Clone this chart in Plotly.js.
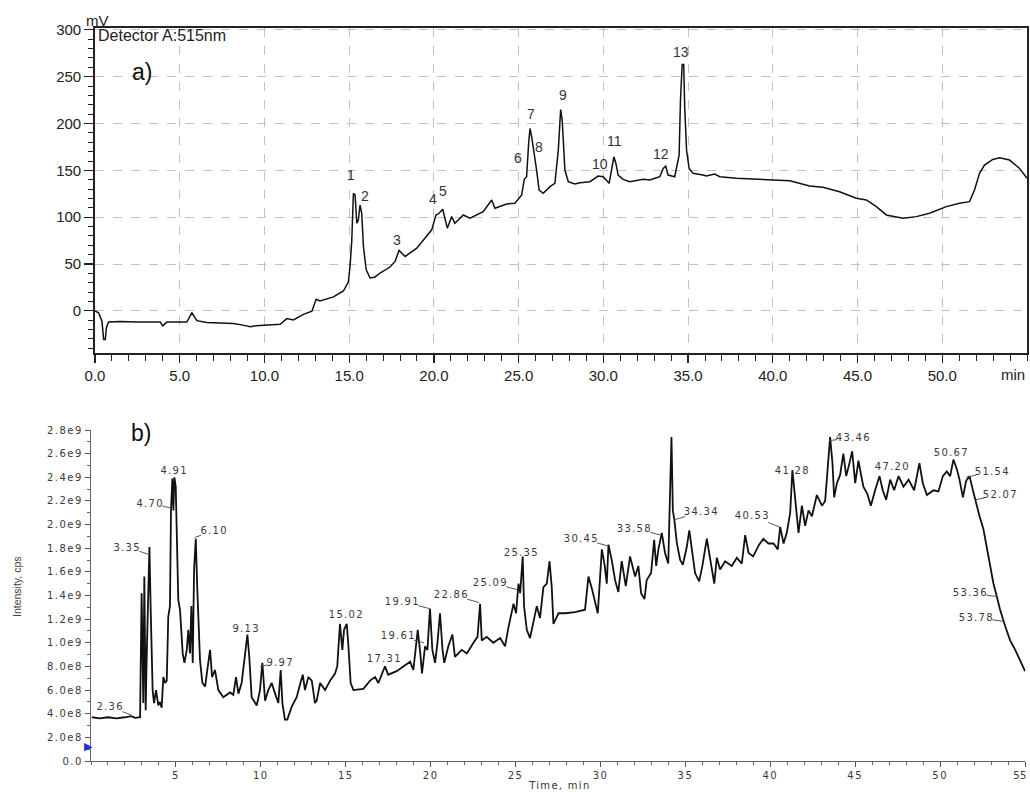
<!DOCTYPE html>
<html>
<head>
<meta charset="utf-8">
<script src="https://cdn.plot.ly/plotly-3.0.1.min.js"></script>
<style>
html,body{margin:0;padding:0;background:#fff;}
#chart{width:1030px;height:792px;}
</style>
</head>
<body>
<div id="chart"></div>
<script>
// ---------- (a) HPLC-DAD chromatogram, Detector A:515nm ----------
const aTime = [0,0.21,0.41,0.51,0.61,0.67,0.8,1.5,2.5,3.5,3.85,4.0,4.24,5.42,5.72,5.82,6.01,6.6,7.4,8.17,8.8,9.16,9.5,9.94,10.5,10.93,11.32,11.71,12.3,12.8,13.05,13.28,14.07,14.66,14.95,15.05,15.15,15.25,15.35,15.45,15.54,15.64,15.74,15.84,16.0,16.23,16.53,16.82,17.41,17.71,17.94,18.3,18.99,19.57,19.87,20.12,20.26,20.52,20.65,20.79,21.05,21.24,21.73,22.13,22.91,23.41,23.6,24.29,24.78,25.18,25.33,25.47,25.59,25.67,25.77,25.9,26.06,26.21,26.45,26.85,27.14,27.34,27.48,27.57,27.73,27.93,28.32,28.62,29.21,29.69,29.99,30.34,30.48,30.62,30.74,30.87,31.17,31.56,32.35,32.74,33.04,33.33,33.53,33.68,33.82,34.21,34.47,34.55,34.65,34.74,34.8,34.91,35.06,35.29,35.88,36.08,36.57,36.87,37.85,39.62,41.0,42.17,42.96,43.94,44.93,45.52,46.11,46.7,47.68,48.47,49.25,50.24,51.02,51.61,51.9,52.2,52.49,52.98,53.38,53.97,54.56,55.0];
const aSignal = [0,-2,-11,-30.5,-30.5,-18,-12,-11.5,-12,-11.5,-12,-16,-12,-12,-2,-5,-10.5,-12.4,-13,-13.4,-15.5,-17,-16,-15.3,-15,-14.3,-8.3,-9.7,-3.8,-0.3,12.4,10.6,14.9,21.2,30.8,47.5,74,125.5,123.7,93.6,97,113,104,68.7,44,35.1,36.2,40.4,46.8,52.8,64.5,58.1,67,79.4,86.5,102.4,103.5,108.5,97,88.3,100.6,93.6,102.4,99,106,118.4,109.6,114.1,114.9,123.7,140.4,143.2,178.7,194.7,185.7,171.6,150.3,129,125.5,132.6,136.2,171.6,214.9,203.5,150.3,137.9,135.4,136.8,137.9,143.9,143.2,136.2,150.3,164.5,157.4,145,140.4,137.9,140.4,139.7,141.5,143.2,152.1,154.6,145,143.2,166.3,224.8,263.1,263.1,217.7,171.6,152.1,146.8,145,144,146,143.2,141.5,140.4,139,133.3,131.9,127.2,120.2,118.4,111.3,102.4,98.9,100.6,104.3,111.3,114.9,116.6,129,146.8,155.6,161.7,163.4,161,152.1,141.5];
const aPeakLabels = ['1','2','3','4','5','6','7','8','9','10','11','12','13'];
const aPeakLabelX = [15.1,15.94,17.8,19.97,20.52,24.94,25.73,26.2,27.63,29.79,30.68,33.43,34.57];
const aPeakLabelY = [145,122.7,75.9,119,128,163.4,210.6,174.5,230,156.4,181.5,168,276.2];
const aXTickVals = [0,5,10,15,20,25,30,35,40,45,50];
const aXTickText = ['0.0','5.0','10.0','15.0','20.0','25.0','30.0','35.0','40.0','45.0','50.0'];
const aYTickVals = [0,50,100,150,200,250,300];
const aYTickText = ['0','50','100','150','200','250','300'];

// ---------- (b) LC-MS total ion chromatogram ----------
const bTime = [0.05,0.5,1.0,1.5,2.0,2.36,2.6,2.89,2.98,3.08,3.14,3.22,3.28,3.38,3.44,3.51,3.63,3.71,3.83,3.96,4.06,4.16,4.26,4.36,4.46,4.55,4.65,4.71,4.79,4.85,4.91,4.99,5.05,5.14,5.24,5.40,5.50,5.64,5.73,5.83,5.91,5.99,6.07,6.17,6.26,6.42,6.56,6.72,6.82,7.01,7.13,7.30,7.50,7.79,8.19,8.38,8.54,8.68,8.87,9.07,9.21,9.32,9.46,9.76,9.95,10.09,10.25,10.44,10.64,10.84,11.03,11.17,11.27,11.42,11.56,11.82,12.11,12.33,12.47,12.60,12.80,13.00,13.19,13.29,13.49,13.78,14.08,14.37,14.50,14.66,14.80,14.90,15.06,15.15,15.29,15.45,16.04,16.43,16.73,16.92,17.31,17.50,18.00,18.39,18.79,18.98,19.24,19.39,19.49,19.67,19.81,19.96,20.10,20.26,20.40,20.55,20.70,20.80,21.04,21.28,21.43,21.83,22.13,22.52,22.76,22.91,23.01,23.30,23.69,24.09,24.38,24.58,24.88,25.03,25.17,25.27,25.42,25.50,25.66,25.85,26.05,26.25,26.44,26.64,26.84,27.00,27.13,27.23,27.53,27.92,28.50,29.09,29.29,29.49,29.84,30.08,30.25,30.37,30.47,30.66,30.86,31.05,31.25,31.49,31.74,32.04,32.23,32.39,32.59,32.72,32.98,33.16,33.28,33.41,33.61,33.80,33.99,34.10,34.18,34.26,34.35,34.50,34.69,34.85,35.08,35.23,35.37,35.57,35.81,36.00,36.26,36.40,36.55,36.70,36.85,37.04,37.34,37.73,38.03,38.32,38.52,38.72,38.99,39.34,39.59,39.89,40.19,40.44,40.58,40.78,40.97,41.17,41.30,41.46,41.66,41.86,42.05,42.25,42.45,42.74,43.04,43.23,43.36,43.52,43.66,43.76,43.92,44.11,44.30,44.47,44.66,44.82,45.00,45.19,45.33,45.48,45.71,45.92,46.17,46.43,46.62,46.82,47.06,47.29,47.55,47.84,48.14,48.47,48.78,48.98,49.22,49.61,49.90,50.16,50.39,50.59,50.78,50.98,51.14,51.34,51.53,51.73,51.93,52.06,52.32,52.55,52.85,53.14,53.34,53.53,53.83,54.12,54.42,54.71,55.00];
const bIntensity = [3.7e8,3.6e8,3.7e8,3.6e8,3.7e8,3.8e8,3.65e8,3.7e8,1.42e9,4.9e8,1.56e9,4.3e8,8.8e8,1.45e9,1.81e9,1.31e9,6.0e8,4.9e8,6.0e8,4.7e8,5.0e8,4.5e8,7.1e8,6.6e8,6.8e8,1.22e9,1.31e9,2.12e9,2.39e9,2.12e9,2.40e9,2.32e9,2.01e9,1.36e9,1.28e9,9.1e8,8.3e8,9.4e8,1.11e9,9.1e8,1.31e9,8.3e8,1.62e9,1.88e9,1.45e9,8.5e8,6.6e8,6.3e8,7.4e8,9.4e8,7.1e8,7.7e8,6.0e8,5.4e8,5.8e8,5.6e8,7.1e8,5.7e8,6.6e8,9.1e8,1.07e9,8.8e8,5.4e8,4.7e8,6.0e8,8.3e8,5.1e8,6.0e8,6.6e8,5.7e8,4.9e8,7.7e8,4.9e8,3.5e8,3.5e8,4.6e8,5.4e8,6.6e8,7.3e8,6.0e8,7.1e8,6.8e8,4.9e8,5.1e8,6.6e8,6.0e8,6.8e8,7.4e8,8.0e8,1.16e9,9.4e8,1.11e9,1.16e9,9.9e8,6.6e8,6.0e8,6.1e8,6.8e8,7.1e8,6.6e8,8.0e8,7.3e8,7.6e8,8.0e8,8.4e8,7.7e8,1.11e9,9.1e8,7.4e8,9.7e8,9.4e8,1.29e9,9.4e8,8.3e8,1.0e9,1.25e9,9.4e8,8.3e8,9.7e8,1.07e9,8.8e8,9.4e8,9.1e8,1.0e9,1.05e9,1.33e9,1.02e9,1.05e9,1.0e9,1.04e9,9.7e8,1.13e9,1.33e9,1.25e9,1.50e9,1.42e9,1.73e9,1.31e9,1.11e9,1.04e9,1.19e9,1.31e9,1.21e9,1.47e9,1.50e9,1.69e9,1.47e9,1.16e9,1.25e9,1.25e9,1.26e9,1.28e9,1.56e9,1.46e9,1.25e9,1.79e9,1.65e9,1.50e9,1.83e9,1.70e9,1.53e9,1.43e9,1.69e9,1.48e9,1.73e9,1.56e9,1.65e9,1.42e9,1.37e9,1.53e9,1.59e9,1.87e9,1.65e9,1.79e9,1.93e9,1.76e9,1.67e9,2.35e9,2.74e9,2.12e9,2.04e9,1.84e9,1.70e9,1.66e9,1.81e9,1.95e9,1.79e9,1.59e9,1.52e9,1.65e9,1.88e9,1.76e9,1.62e9,1.50e9,1.72e9,1.62e9,1.69e9,1.65e9,1.72e9,1.67e9,1.91e9,1.76e9,1.73e9,1.83e9,1.88e9,1.84e9,1.84e9,1.79e9,1.98e9,1.84e9,1.93e9,2.10e9,2.46e9,2.24e9,1.93e9,2.16e9,1.99e9,2.12e9,2.07e9,2.25e9,2.16e9,2.20e9,2.41e9,2.74e9,2.52e9,2.23e9,2.35e9,2.42e9,2.60e9,2.41e9,2.52e9,2.62e9,2.35e9,2.54e9,2.43e9,2.32e9,2.26e9,2.16e9,2.29e9,2.41e9,2.29e9,2.21e9,2.38e9,2.29e9,2.41e9,2.32e9,2.38e9,2.29e9,2.52e9,2.35e9,2.25e9,2.29e9,2.28e9,2.41e9,2.45e9,2.41e9,2.55e9,2.47e9,2.38e9,2.23e9,2.37e9,2.41e9,2.29e9,2.21e9,2.07e9,1.96e9,1.73e9,1.50e9,1.39e9,1.28e9,1.14e9,1.02e9,9.4e8,8.5e8,7.6e8];
// peaks labelled with a small leader line (retention time, intensity at the leader end)
const bLeadText = ['2.36','3.35','4.70','6.10','9.97','19.61','19.91','22.86','25.09','30.45','33.58','34.34','40.53','43.46','51.54','52.07','53.36','53.78'];
const bLeadY = [3.9e8,1.75e9,2.14e9,1.89e9,8.0e8,1.0e9,1.29e9,1.34e9,1.45e9,1.82e9,1.91e9,2.04e9,1.98e9,2.71e9,2.40e9,2.21e9,1.39e9,1.18e9];
// peaks labelled directly above the peak
const bTopText = ['4.91','9.13','15.02','17.31','25.35','34.12','41.28','47.20','50.67'];
const bTopY = [2.46e9,1.12e9,1.24e9,8.69e8,1.76e9,2.81e9,2.46e9,2.49e9,2.61e9];
const bXTickVals = [5,10,15,20,25,30,35,40,45,50,55];
const bXTickText = ['5','10','15','20','25','30','35','40','45','50','55'];
const bYTickVals = [0,2e8,4e8,6e8,8e8,1e9,1.2e9,1.4e9,1.6e9,1.8e9,2.0e9,2.2e9,2.4e9,2.6e9,2.8e9];
const bYTickText = ['0.0','2.0e8','4.0e8','6.0e8','8.0e8','1.0e9','1.2e9','1.4e9','1.6e9','1.8e9','2.0e9','2.2e9','2.4e9','2.6e9','2.8e9'];

// leader-line offsets of the label text (pixels), layout only
const bLeadOffsets = [[-21,-8],[-21,-7],[-21,-5],[19,-7],[20,-4],[-26,-7],[-27,-7],[-28,-8],[-27,-7],[-27,-7],[-27,-7],[27,-8],[-27,-11],[24,-3],[26,-6],[25,-5],[-27,-4],[-28,-4]];

const W = 1030, H = 792;
const traces = [
  {x:aTime, y:aSignal, xaxis:'x', yaxis:'y', type:'scatter', mode:'lines',
   line:{color:'#111', width:1.5}, hoverinfo:'skip'},
  {x:bTime, y:bIntensity, xaxis:'x2', yaxis:'y2', type:'scatter', mode:'lines',
   line:{color:'#111', width:1.8}, hoverinfo:'skip'}
];

const annotations = [];
aPeakLabels.forEach((t,i)=>annotations.push({xref:'x', yref:'y', x:aPeakLabelX[i], y:aPeakLabelY[i],
  text:t, showarrow:false, font:{size:14, color:'#333', family:'Liberation Sans, Arial, sans-serif'}}));
const bFont = {size:10, color:'#3a3a3a', family:'DejaVu Sans, sans-serif'};
const bStart = annotations.length;
bLeadText.forEach((t,i)=>annotations.push({xref:'x2', yref:'y2', x:parseFloat(t), y:bLeadY[i],
  text:t, showarrow:true, arrowhead:0, arrowwidth:0.9, arrowcolor:'#444', standoff:0,
  ax:bLeadOffsets[i][0], ay:bLeadOffsets[i][1], font:bFont}));
bTopText.forEach((t,i)=>annotations.push({xref:'x2', yref:'y2', x:parseFloat(t), y:bTopY[i],
  text:t, showarrow:false, font:bFont}));
const bEnd = annotations.length;
// blue start marker at the left of the intensity axis
annotations.push({xref:'paper', yref:'paper', x:88/W, y:1-746/H, xanchor:'center', yanchor:'middle',
  text:'\u25B6', showarrow:false, font:{size:11, color:'#1f2fd0', family:'DejaVu Sans, sans-serif'}});
// free texts
annotations.push({xref:'paper', yref:'paper', x:96/W, y:1-36/H, xanchor:'left', yanchor:'middle',
  text:'Detector A:515nm', showarrow:false, font:{size:16, color:'#222'}});
annotations.push({xref:'paper', yref:'paper', x:97/W, y:1-20/H, xanchor:'center', yanchor:'middle',
  text:'mV', showarrow:false, font:{size:15, color:'#222'}});
annotations.push({xref:'paper', yref:'paper', x:142/W, y:1-72/H, xanchor:'center', yanchor:'middle',
  text:'a)', showarrow:false, font:{size:23, color:'#111'}});
annotations.push({xref:'paper', yref:'paper', x:1013/W, y:1-374/H, xanchor:'center', yanchor:'middle',
  text:'min', showarrow:false, font:{size:15, color:'#222'}});
annotations.push({xref:'paper', yref:'paper', x:141/W, y:1-433/H, xanchor:'center', yanchor:'middle',
  text:'b)', showarrow:false, font:{size:23, color:'#111'}});
annotations.push({xref:'paper', yref:'paper', x:17/W, y:1-587/H, xanchor:'center', yanchor:'middle',
  text:'Intensity, cps', textangle:-90, showarrow:false, font:{size:10.5, color:'#444'}});
const timeIdx = annotations.length;
annotations.push({xref:'paper', yref:'paper', x:559/W, y:1-785/H, xanchor:'center', yanchor:'middle',
  text:'Time, min', showarrow:false, font:{size:10, color:'#333', family:'DejaVu Sans, sans-serif'}});

const topFont = {size:15, color:'#222', family:'Liberation Sans, Arial, sans-serif'};
const layout = {
  width:W, height:H, margin:{l:0,r:0,t:0,b:0},
  paper_bgcolor:'#fff', plot_bgcolor:'#fff', showlegend:false,
  font:{family:'Liberation Sans, Arial, sans-serif', color:'#222'},
  xaxis:{domain:[95/W,1027/W], range:[0,55], anchor:'y', automargin:false,
    tickmode:'array', tickvals:aXTickVals, ticktext:aXTickText, tickfont:topFont,
    ticks:'outside', ticklen:8, tickwidth:1.2, tickcolor:'#222',
    showline:true, linecolor:'#222', linewidth:1.8, mirror:true,
    showgrid:true, gridcolor:'#c2c2c2', griddash:'dash', gridwidth:1, zeroline:false,
    minor:{tickmode:'linear', tick0:0, dtick:1, ticks:'outside', ticklen:6, tickwidth:1, tickcolor:'#222', showgrid:false}},
  yaxis:{domain:[1-353/H,1-28/H], range:[-45,302], anchor:'x', automargin:false,
    tickmode:'array', tickvals:aYTickVals, ticktext:aYTickText, tickfont:topFont,
    ticks:'outside', ticklen:9, tickwidth:1.2, tickcolor:'#222',
    showline:true, linecolor:'#222', linewidth:1.8, mirror:true,
    showgrid:true, gridcolor:'#c2c2c2', griddash:'dash', gridwidth:1, zeroline:false,
    minor:{tickmode:'linear', tick0:0, dtick:10, ticks:'outside', ticklen:5, tickwidth:1, tickcolor:'#222', showgrid:false}},
  xaxis2:{domain:[91/W,1025.4/W], range:[0,55.02], anchor:'y2', automargin:false,
    tickmode:'array', tickvals:bXTickVals, ticktext:bXTickText, ticklabeloverflow:'allow',
    tickfont:{size:10, color:'#3a3a3a', family:'DejaVu Sans, sans-serif'},
    ticks:'outside', ticklen:5, tickwidth:1, tickcolor:'#555',
    showline:true, linecolor:'#666', linewidth:1.2, mirror:false, showgrid:false, zeroline:false,
    minor:{tickmode:'linear', tick0:0, dtick:1, ticks:'outside', ticklen:3, tickwidth:1, tickcolor:'#666', showgrid:false}},
  yaxis2:{domain:[1-761/H,1-430/H], range:[0,2.8e9], anchor:'x2', automargin:false,
    tickmode:'array', tickvals:bYTickVals, ticktext:bYTickText,
    tickfont:{size:10, color:'#3a3a3a', family:'DejaVu Sans, sans-serif'},
    ticks:'outside', ticklen:5, tickwidth:1, tickcolor:'#555',
    showline:true, linecolor:'#666', linewidth:1.2, mirror:false, showgrid:false, zeroline:false,
    minor:{tickmode:'linear', tick0:0, dtick:1e8, ticks:'outside', ticklen:3, tickwidth:1, tickcolor:'#666', showgrid:false}},
  annotations:annotations
};

Plotly.newPlot('chart', traces, layout, {staticPlot:true, displayModeBar:false}).then(function(){
  const xl = document.querySelectorAll('.x2tick text');
  xl.forEach(function(el){ el.style.letterSpacing = '1.5px'; });
  // keep the last time label ("55") fully inside the picture
  xl.forEach(function(el){
    if (el.textContent === '55') { el.style.letterSpacing = '0.5px'; el.setAttribute('dx', '-5'); }
  });
  document.querySelectorAll('.y2tick text').forEach(function(el){ el.style.letterSpacing = '1.5px'; });
  document.querySelectorAll('g.annotation').forEach(function(g){
    const idx = parseInt(g.getAttribute('data-index'), 10);
    if ((idx >= bStart && idx < bEnd) || idx === timeIdx) {
      g.querySelectorAll('text').forEach(function(t){ t.style.letterSpacing = '1.3px'; });
    }
  });
});
</script>
</body>
</html>
